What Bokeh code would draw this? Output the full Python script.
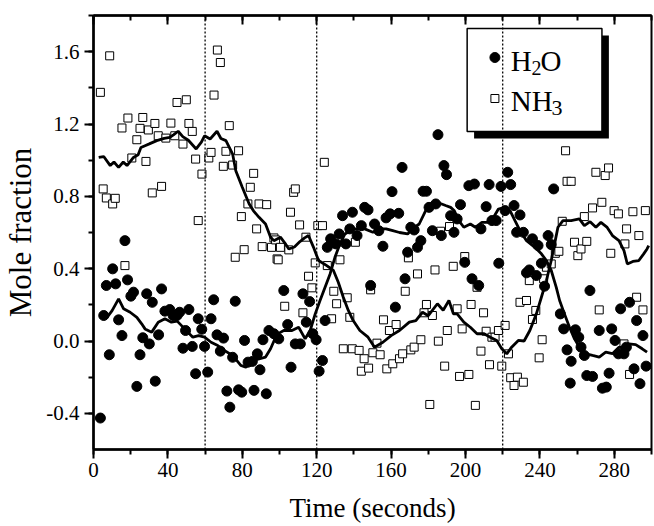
from bokeh.plotting import figure
from bokeh.models import Span, SingleIntervalTicker, LinearAxis, PrintfTickFormatter, Range1d
from bokeh.core.properties import value
from bokeh.embed import file_html
from bokeh.resources import INLINE

# ---------------- data ----------------
h2o_t = [3.7, 5.5, 6.9, 8.5, 10.3, 11.9, 13.5, 15.3, 16.9, 18.3, 20.1, 21.5, 23.3, 25.0, 26.5, 28.6, 30.0,
         31.6, 33.2, 35.0, 36.6, 38.4, 41.0, 42.8, 44.9, 46.3, 48.1, 49.5, 51.3, 53.1, 54.9, 56.3, 58.2,
         59.7, 61.4, 63.2, 64.6, 66.4, 68.2, 69.9, 71.7, 73.3, 74.8, 76.2, 78.0, 79.7, 81.2, 83.1, 85.4,
         86.3, 88.1, 89.5, 91.1, 92.9, 94.3, 97.0, 99.6, 102.3, 104.4, 106.2, 108.5, 111.2, 112.6, 114.4,
         116.2, 117.9, 119.7, 121.3, 123.1, 124.5, 125.7, 127.5, 130.3, 132.1, 133.9, 135.7, 137.8, 139.2,
         141.7, 144.0, 145.8, 147.6, 149.0, 151.1, 153.4, 155.6, 157.3, 159.5, 160.5, 162.3, 164.1, 165.9,
         167.5, 168.9, 170.6, 172.4, 174.2, 176.0, 177.2, 179.0, 180.4, 182.2, 184.0, 185.2, 187.0, 188.4,
         189.8, 192.0, 193.8, 195.5, 197.3, 199.6, 201.8, 203.5, 204.8, 207.1, 208.3, 211.1, 212.7, 214.2,
         216.5, 217.9, 219.1, 221.3, 222.7, 224.3, 226.1, 227.5, 229.3, 231.1, 232.8, 234.3, 236.0, 238.1,
         239.0, 240.8, 242.5, 244.4, 246.1, 247.4, 251.0, 252.8, 254.6, 256.3, 256.8, 259.1, 260.9, 262.1,
         263.9, 265.2, 266.9, 268.3, 271.9, 273.6, 275.7, 277.2, 278.6, 280.4, 282.2, 283.4, 285.2, 286.5,
         288.2, 290.6, 292.0, 293.8, 295.4, 297.1]
h2o_v = [-0.426, 0.141, 0.307, -0.076, 0.399, 0.316, 0.117, 0.030, 0.555, 0.338, 0.248, 0.270, -0.251,
         -0.076, 0.018, 0.261, -0.016, 0.214, -0.222, 0.034, 0.288, 0.165, 0.174, 0.141, 0.141, 0.159,
         -0.040, 0.058, 0.174, -0.030, -0.181, 0.123, 0.065, -0.030, -0.172, 0.123, 0.228, 0.034, -0.056,
         0.016, -0.277, -0.366, -0.090, 0.220, -0.270, -0.283, 0.003, -0.117, -0.113, -0.273, -0.071,
         -0.159, 0.007, -0.292, 0.058, 0.040, 0.012, 0.279, 0.091, -0.145, -0.016, -0.016, 0.261, 0.104,
         0.218, 0.040, 0.007, -0.167, -0.108, 0.113, 0.518, 0.565, 0.537, 0.592, 0.693, 0.537, 0.620,
         0.712, 0.583, 0.638, 0.739, 0.725, 0.307, 0.647, 0.610, 0.524, 0.681, 0.703, 0.826, 0.187, 0.706,
         0.960, 0.344, 0.491, 0.629, 0.614, 0.518, 0.555, 0.828, 0.828, 0.739, 0.610, 0.758, 1.141, 0.583,
         0.970, 0.920, 0.693, 0.601, 0.675, 0.754, 0.435, 0.859, 0.344, 0.868, 0.307, 0.620, 0.743, 0.865,
         0.666, 0.666, 0.430, 0.855, 0.721, 0.933, 0.865, 0.749, 0.601, 0.697, 0.601, 0.377, 0.393, 0.565,
         0.362, 0.528, 0.430, 0.303, 0.583, 0.533, 0.841, 0.150, 0.067, -0.049, -0.233, -0.112, 0.062,
         0.021, -0.034, -0.080, -0.191, 0.279, -0.196, 0.058, -0.261, -0.255, -0.178, 0.067, 0.003, -0.071,
         0.178, -0.071, -0.034, 0.214, -0.154, 0.113, -0.236, 0.030, -0.139]

nh3_t = [3.7, 5.2, 6.9, 8.7, 10.3, 11.7, 15.3, 16.9, 18.5, 20.6, 23.3, 25.0, 26.5, 28.2, 29.5, 31.6, 33.0,
         34.8, 36.6, 38.9, 41.6, 43.7, 44.9, 48.1, 49.9, 51.3, 53.1, 54.9, 56.3, 58.3, 62.0, 63.2, 64.8,
         66.6, 68.2, 69.8, 71.2, 73.0, 74.8, 76.2, 78.0, 79.5, 81.0, 83.0, 84.3, 86.1, 87.7, 89.0, 90.7,
         93.1, 95.7, 97.0, 97.9, 98.7, 99.3, 100.5, 102.8, 105.0, 105.9, 107.6, 108.5, 110.8, 112.6, 114.2,
         115.6, 117.4, 119.2, 120.6, 123.1, 124.1, 125.7, 128.0, 129.2, 130.7, 132.5, 134.3, 136.4, 137.8,
         139.1, 140.8, 142.8, 144.0, 145.5, 147.9, 149.0, 150.2, 152.4, 154.1, 155.9, 157.7, 159.1, 160.9,
         162.7, 164.5, 166.2, 167.6, 169.3, 170.6, 172.4, 174.2, 176.0, 177.7, 179.0, 180.8, 182.2, 183.6,
         185.4, 186.6, 188.8, 190.2, 191.4, 193.4, 195.5, 196.8, 198.2, 199.6, 201.8, 203.0, 205.3, 206.2,
         208.3, 209.7, 211.1, 212.9, 214.2, 215.9, 217.7, 219.5, 221.3, 223.1, 224.3, 226.1, 227.9, 229.3,
         231.1, 232.8, 234.3, 236.0, 237.8, 239.6, 241.2, 242.0, 243.5, 246.1, 248.3, 250.2, 252.0, 253.8,
         254.6, 256.8, 258.6, 260.4, 262.1, 263.9, 265.2, 268.3, 270.1, 271.9, 273.3, 275.1, 276.9, 278.1,
         279.9, 282.2, 285.2, 285.7, 286.6, 288.2, 290.0, 292.0, 293.2, 295.4, 296.7]
nh3_v = [1.375, 0.841, 0.791, 1.577, 0.758, 0.789, 1.178, 0.417, 1.233, 1.012, 1.113, 1.176, 1.236, 0.993,
         1.167, 0.819, 1.203, 1.135, 0.855, 1.122, 1.205, 1.135, 1.319, 1.089, 1.334, 1.203, 1.159, 1.006,
         0.666, 0.923, 1.012, 1.043, 1.360, 1.609, 1.540, 0.966, 1.049, 1.191, 0.973, 0.463, 1.052, 0.688,
         0.505, 0.758, 0.850, 0.927, 0.620, 0.758, 0.522, 0.754, 0.518, 0.570, 0.559, 0.454, 0.449, 0.518,
         0.192, 0.504, 0.712, 0.822, 0.841, 0.642, 0.156, 0.574, 0.358, 0.294, 0.432, 0.638, 0.638, 0.988,
         0.417, 0.123, 0.275, 0.206, 0.449, -0.043, 0.239, 0.131, -0.043, 0.546, -0.052, -0.167, -0.098,
         -0.150, 0.283, -0.065, -0.012, -0.076, 0.117, -0.154, 0.058, -0.126, 0.091, -0.098, -0.071, 0.275,
         0.460, -0.049, -0.034, 0.371, 0.007, 0.156, 0.202, -0.351, 0.141, 0.393, -0.001, 0.607, -0.139,
         0.058, 0.633, 0.413, 0.178, -0.196, 0.067, 0.467, -0.185, 0.202, -0.356, 0.297, -0.056, 0.156,
         0.054, -0.131, 0.021, 0.021, 0.058, -0.139, 0.086, -0.071, -0.203, -0.246, -0.200, 0.214, -0.228,
         0.224, 0.334, 0.119, 0.169, -0.093, 0.007, 0.344, 0.408, 0.426, 0.485, 0.496, 0.662, 1.052, 0.883,
         0.883, 0.546, 0.472, 0.509, 0.688, 0.551, 0.736, 0.933, 0.172, 0.767, 0.915, 0.957, 0.485, 0.721,
         0.703, -0.016, 0.537, 0.620, -0.185, 0.715, 0.242, 0.583, 0.172, 0.721]

# smoothed traces
h2o_fit_t = [3.7, 7.3, 10, 13.5, 16.2, 19.7, 23.3, 25.9, 27.7, 31.3, 34.8, 38.4, 41.9, 45, 49, 53.4, 56.5,
             59.7, 63.2, 66.8, 70.3, 74.8, 79.2, 81.9, 85.4, 88.5, 92.5, 95.2, 97.9, 100, 102.3, 106.7,
             110.3, 113.8, 116.5, 119.2, 121.8, 124.5, 127.2, 129.8, 132.5, 135.2, 139.6, 143, 145.8, 150.2,
             153.5, 157.3, 160.9, 164.5, 168.9, 171.5, 175.1, 178.6, 181.3, 184, 186.5, 189.3, 192, 194,
             196.4, 199.1, 202.6, 205.3, 208.8, 212, 215.1, 217.7, 221.3, 224, 226.6, 229.3, 232.8, 237.3,
             240.8, 243.5, 246.1, 248.8, 250.6, 253.2, 255.9, 258.6, 261.2, 264.8, 268.3, 271.9, 275.4, 279,
             282.5, 285, 287.9, 291.5, 295, 297.6]
h2o_fit_v = [0.141, 0.131, 0.168, 0.233, 0.178, 0.159, 0.131, 0.095, 0.067, 0.049, 0.104, 0.123, 0.104,
             0.11, 0.067, 0.021, 0.03, 0.021, -0.007, -0.025, -0.052, -0.08, -0.135, -0.145, -0.108, -0.10,
             -0.089, -0.043, 0.021, 0.045, 0.058, 0.058, 0.076, 0.012, 0.058, 0.15, 0.224, 0.297, 0.371, 0.463,
             0.537, 0.592, 0.62, 0.62, 0.62, 0.601, 0.62, 0.62, 0.61, 0.60, 0.592, 0.62, 0.647, 0.721, 0.758,
             0.776, 0.76, 0.749, 0.739, 0.72, 0.666, 0.629, 0.647, 0.629, 0.656, 0.656, 0.684, 0.73, 0.739,
             0.72, 0.666, 0.61, 0.555, 0.518, 0.482, 0.445, 0.39, 0.297, 0.224, 0.15, 0.076, 0.012, -0.034,
             -0.071, -0.08, -0.089, -0.062, -0.07, -0.034, -0.04, -0.016, -0.02, -0.043, -0.062]

nh3_fit_t = [2.8, 5.5, 9.0, 11, 13.5, 16, 18, 21.5, 24, 25.5, 27.7, 30, 34, 38, 41, 43, 45.5, 48, 51, 55.2,
             58, 59.7, 62.7, 66.4, 68.5, 71.2, 74.8, 76.5, 80, 83.7, 86, 89, 92.5, 95.2, 97, 100.5, 103, 105,
             108, 111, 113.5, 115.6, 118.3, 121, 125.4, 129, 131.6, 134.3, 137, 139.6, 143.2, 147.6, 151.1,
             155.6, 160, 164.5, 169.8, 173.3, 176.9, 180, 184.9, 188, 191.1, 193.5, 195.5, 199.1, 202.6,
             206.2, 210, 213.3, 216.8, 219.5, 222.2, 224.8, 228.4, 231.5, 234.6, 238.1, 240.8, 243.5, 246.1,
             247.9, 249.7, 252.4, 256.8, 261.2, 263.9, 267, 270.1, 272.8, 276, 279, 282.5, 285.2, 287, 290,
             293.2, 295.8, 297.6, 298.5]
nh3_fit_v = [1.015, 1.02, 0.97, 0.99, 0.96, 0.99, 0.97, 1.015, 1.03, 1.07, 1.08, 1.09, 1.108, 1.12, 1.126,
             1.14, 1.16, 1.13, 1.11, 1.062, 1.10, 1.135, 1.117, 1.16, 1.12, 1.108, 1.034, 0.942, 0.85, 0.758,
             0.72, 0.684, 0.647, 0.574, 0.555, 0.574, 0.54, 0.509, 0.52, 0.55, 0.57, 0.583, 0.518, 0.445, 0.417,
             0.39, 0.325, 0.242, 0.169, 0.113, 0.058, 0.021, -0.034, -0.007, 0.03, 0.058, 0.104, 0.113, 0.159,
             0.14, 0.206, 0.17, 0.224, 0.15, 0.15, 0.104, 0.076, 0.04, 0.04, 0.021, 0.003, -0.043, -0.071,
             -0.034, 0.003, 0.0, 0.058, 0.15, 0.242, 0.334, 0.445, 0.537, 0.629, 0.666, 0.666, 0.675, 0.638,
             0.66, 0.629, 0.656, 0.63, 0.583, 0.555, 0.5, 0.426, 0.44, 0.445, 0.482, 0.509, 0.527]

event_times = [60, 120, 220]
series_names = ["H", "2", "O"]  # H2O legend pieces
nh3_name = ["NH", "3"]

# ---------------- layout constants ----------------
W, H = 654, 526
FL, FR, FT, FB = 88, 651, 15, 449
X0, X1, Y0, Y1 = 0, 300, -0.6, 1.8
FONT = value("Liberation Serif")


def dx(px):
    return X0 + (px - FL) * (X1 - X0) / (FR - FL)


def dy(py):
    return Y1 - (py - FT) * (Y1 - Y0) / (FB - FT)


p = figure(width=W, height=H, output_backend="svg", toolbar_location=None,
           x_range=Range1d(X0, X1), y_range=Range1d(Y0, Y1),
           min_border_left=FL, min_border_right=W - FR, min_border_top=FT, min_border_bottom=H - FB)
p.grid.visible = False
p.outline_line_color = "black"
p.outline_line_width = 2
p.background_fill_color = "white"
p.border_fill_color = "white"

for ax in (p.xaxis[0], p.yaxis[0]):
    ax.axis_line_width = 2.5
    ax.major_tick_line_width = 2
    ax.minor_tick_line_width = 2
    ax.major_tick_out = 9
    ax.major_tick_in = 0
    ax.minor_tick_out = 5
    ax.minor_tick_in = 0
    ax.major_label_text_font = "Liberation Serif"
    ax.major_label_text_font_size = "21px"
    ax.major_label_text_color = "black"
    ax.axis_label_text_font = "Liberation Serif"
    ax.axis_label_text_font_style = "normal"
    ax.axis_label_text_color = "black"

p.xaxis.axis_label_text_font_size = "27px"
p.yaxis.axis_label_text_font_size = "31px"
p.xaxis.ticker = SingleIntervalTicker(interval=40, num_minor_ticks=2)
p.yaxis.ticker = SingleIntervalTicker(interval=0.4, num_minor_ticks=2)
p.yaxis.formatter = PrintfTickFormatter(format="%.1f")
p.xaxis.axis_label = "Time (seconds)"
p.yaxis.axis_label = "Mole fraction"
p.xaxis.major_label_standoff = 4
p.xaxis.axis_label_standoff = 13
p.yaxis.major_label_standoff = 5
p.yaxis.axis_label_standoff = 5

top = LinearAxis(ticker=SingleIntervalTicker(interval=40, num_minor_ticks=2),
                 major_label_text_font_size="0px", major_label_text_color=None,
                 major_label_standoff=0,
                 major_tick_in=9, major_tick_out=0, minor_tick_in=5, minor_tick_out=0,
                 axis_line_width=2.5, major_tick_line_width=2, minor_tick_line_width=2)
p.add_layout(top, "above")

for t in event_times:
    p.add_layout(Span(location=t, dimension="height", line_color="black",
                      line_width=1.3, line_dash="2 2"))

# data
p.scatter(nh3_t, nh3_v, marker="square", size=8, fill_color="white", line_color="black", line_width=1)
p.scatter(h2o_t, h2o_v, marker="circle", size=10, fill_color="black", line_color="black")
p.line(nh3_fit_t, nh3_fit_v, line_color="black", line_width=2.8)
p.line(h2o_fit_t, h2o_fit_v, line_color="black", line_width=2.8)

# legend box with drop shadow
p.quad(left=[dx(472)], right=[dx(608)], top=[dy(35)], bottom=[dy(138)],
       fill_color="black", line_color=None)
p.quad(left=[dx(465)], right=[dx(601)], top=[dy(28)], bottom=[dy(131)],
       fill_color="white", line_color="black", line_width=1.5)
p.scatter([dx(493)], [dy(57)], marker="circle", size=10, fill_color="black", line_color="black")
p.scatter([dx(493)], [dy(98)], marker="square", size=8, fill_color="white", line_color="black")
p.text([dx(509)], [dy(60)], text=[series_names[0]], text_font=FONT, text_font_size="29px",
       text_baseline="middle", text_color="black")
p.text([dx(530)], [dy(67)], text=[series_names[1]], text_font=FONT, text_font_size="20px",
       text_baseline="middle", text_color="black")
p.text([dx(539)], [dy(60)], text=[series_names[2]], text_font=FONT, text_font_size="29px",
       text_baseline="middle", text_color="black")
p.text([dx(509)], [dy(100)], text=[nh3_name[0]], text_font=FONT, text_font_size="29px",
       text_baseline="middle", text_color="black")
p.text([dx(550)], [dy(107)], text=[nh3_name[1]], text_font=FONT, text_font_size="22px",
       text_baseline="middle", text_color="black")

open("out.html", "w").write(file_html(p, INLINE))
